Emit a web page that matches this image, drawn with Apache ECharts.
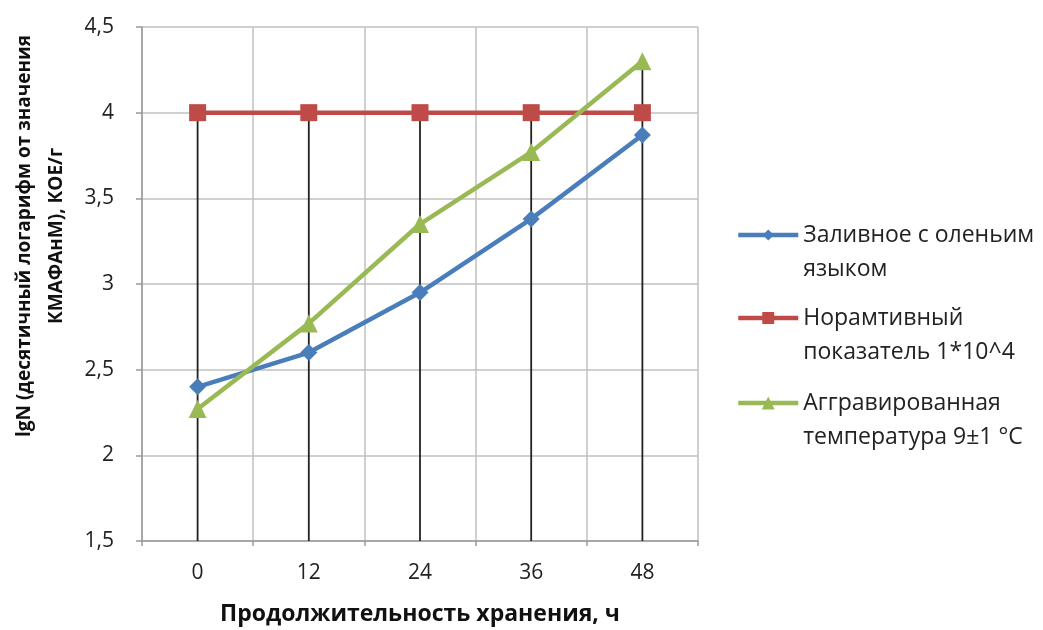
<!DOCTYPE html>
<html>
<head>
<meta charset="utf-8">
<script src="https://cdn.jsdelivr.net/npm/echarts@6/dist/echarts.min.js"></script>
<style>
  html, body { margin: 0; padding: 0; background: #fff; }
  #chart { width: 1043px; height: 630px; }
</style>
</head>
<body>
<div id="chart"></div>
<script>
// Storage time, hours
const hours = ['0', '12', '24', '36', '48'];
// lgN values per series
const jellied = [2.4, 2.6, 2.95, 3.38, 3.87];
const normative = [4, 4, 4, 4, 4];
const aggravated = [2.27, 2.77, 3.35, 3.77, 4.3];

const seriesNames = ['Заливное с оленьим языком', 'Нормативный показатель 1*10^4', 'Аггравированная температура 9±1 °C'];
// Legend text: a blank first line keeps the icon level with the first text line
const legendLabels = [' \nЗаливное с оленьим\nязыком', ' \nНорамтивный\nпоказатель 1*10^4', ' \nАггравированная\nтемпература 9±1 °C'];

const FONT = 'Open Sans';
const colors = ['#4a7ebb', '#be4b48', '#98b954'];
const symbols = ['diamond', 'rect', 'triangle'];
const symbolSizes = [17, 17, 18];
const legendSymbolSizes = [14, 15, 16];
const data = [jellied, normative, aggravated];

// Drop lines run from the highest point of each category down to the axis
const dropTops = hours.map((h, i) => [i, Math.max(jellied[i], normative[i], aggravated[i])]);

const chart = echarts.init(document.getElementById('chart'), null, { renderer: 'canvas' });

const LEGEND_LINE = 34;
const firstLineY = [235, 318, 403];

chart.setOption({
  animation: false,
  backgroundColor: '#fff',
  grid: { left: 142, right: 345, top: 27, bottom: 89, outerBoundsMode: 'none', containLabel: false },
  xAxis: {
    type: 'category',
    data: hours,
    boundaryGap: true,
    axisLine: { lineStyle: { color: '#9a9a9a', width: 1.5 } },
    axisTick: { show: true, length: 5, lineStyle: { color: '#9a9a9a', width: 1.5 } },
    axisLabel: { color: '#222', fontFamily: FONT, fontSize: 21, margin: 22 },
    splitLine: { show: true, lineStyle: { color: '#c0c0c0', width: 1.5 } },
    name: 'Продолжительность хранения, ч',
    nameLocation: 'middle',
    nameGap: 62,
    nameTextStyle: { color: '#111', fontFamily: FONT, fontSize: 23, fontWeight: 'bold' }
  },
  yAxis: {
    type: 'value',
    min: 1.5,
    max: 4.5,
    interval: 0.5,
    axisLine: { show: true, lineStyle: { color: '#9a9a9a', width: 1.5 } },
    axisTick: { show: true, length: 6, lineStyle: { color: '#9a9a9a', width: 1.5 } },
    axisLabel: {
      color: '#222', fontFamily: FONT, fontSize: 21, margin: 28,
      formatter: v => String(v).replace('.', ',')
    },
    splitLine: { show: true, lineStyle: { color: '#c0c0c0', width: 1.5 } }
  },
  legend: seriesNames.map((name, i) => ({
    data: [{ name: name, itemStyle: { color: colors[i] } }],
    orient: 'vertical',
    left: 736,
    top: firstLineY[i] - LEGEND_LINE * 1.5,
    padding: 0,
    itemWidth: 60,
    itemHeight: legendSymbolSizes[i],
    itemGap: 0,
    lineStyle: { width: 4.5 },
    formatter: () => legendLabels[i],
    textStyle: {
      color: '#222', fontFamily: FONT, fontSize: 23, lineHeight: LEGEND_LINE
    }
  })),
  graphic: [{
    type: 'text',
    x: 41,
    y: 236,
    rotation: Math.PI / 2,
    style: {
      text: 'lgN (десятичный логарифм от значения\nКМАФАнМ), КОЕ/г',
      fill: '#111',
      font: 'bold 19px "' + FONT + '"',
      lineHeight: 32,
      align: 'center',
      verticalAlign: 'middle'
    }
  }],
  series: [
    {
      type: 'custom',
      name: 'drop',
      data: dropTops,
      z: 1,
      silent: true,
      renderItem: (params, api) => {
        const top = api.coord([api.value(0), api.value(1)]);
        const base = api.coord([api.value(0), 1.5]);
        return {
          type: 'line',
          shape: { x1: top[0], y1: top[1], x2: base[0], y2: base[1] },
          style: { stroke: '#222', lineWidth: 1.8 }
        };
      }
    }
  ].concat(seriesNames.map((name, i) => ({
    type: 'line',
    name: name,
    data: data[i],
    z: 3 + i,
    symbol: symbols[i],
    symbolSize: symbolSizes[i],
    showAllSymbol: true,
    lineStyle: { color: colors[i], width: 4.5 },
    itemStyle: { color: colors[i] }
  })))
});
</script>
</body>
</html>
